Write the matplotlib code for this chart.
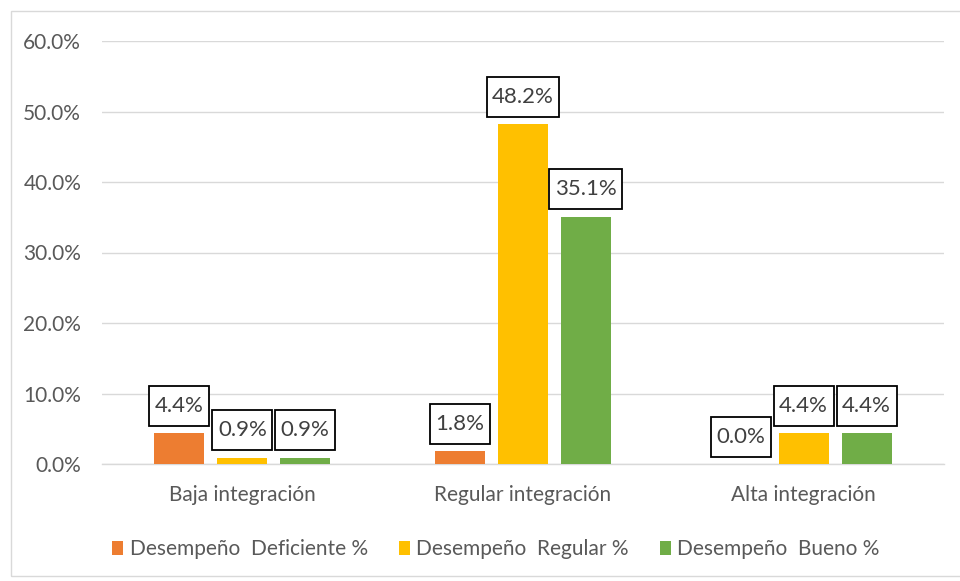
import matplotlib.pyplot as plt
from matplotlib.patches import Rectangle
from matplotlib.path import Path
import numpy as np

categories = ["Baja integración", "Regular integración", "Alta integración"]
series_names = ["Desempeño  Deficiente %", "Desempeño  Regular %", "Desempeño  Bueno %"]
deficiente = [4.4, 1.8, 0.0]
regular = [0.9, 48.2, 4.4]
bueno = [0.9, 35.1, 4.4]
colors = ["#ED7D31", "#FFC000", "#70AD47"]

plt.rcParams['font.family'] = ['Lato', 'DejaVu Sans']


def label_box(x0, y0, width, height, mutation_size):
    # rectangle with more vertical than horizontal padding
    px, py = 0.25 * mutation_size, 0.45 * mutation_size
    x0, y0 = x0 - px, y0 - py
    x1, y1 = x0 + width + 2 * px, y0 + height + 2 * py
    return Path([(x0, y0), (x1, y0), (x1, y1), (x0, y1), (x0, y0)], closed=True)


fig = plt.figure(figsize=(9.6, 5.81), dpi=100)
ax = fig.add_axes([102 / 960, 117 / 581, 842 / 960, 423 / 581])

# light chart border
fig.patches.append(Rectangle((11 / 960, 5 / 581), 1.2, 565 / 581, transform=fig.transFigure,
                             fill=False, edgecolor="#d9d9d9", linewidth=1.0))

x = np.arange(len(categories))
width = 0.178
step = 0.224
for i, (vals, name, c) in enumerate(zip([deficiente, regular, bueno], series_names, colors)):
    pos = x + (i - 1) * step
    ax.bar(pos, vals, width=width, color=c, label=name, zorder=3)
    for px, v in zip(pos, vals):
        ax.annotate(f"{v:.1f}%", (px, v), xytext=(0, 12.5), textcoords="offset points",
                    ha="center", va="bottom", fontsize=16, color="#404040", zorder=5,
                    bbox=dict(boxstyle=label_box, fc="white", ec="black", lw=1.3))

ax.set_xlim(-0.5, 2.5)
ax.set_ylim(0, 60)
ax.set_yticks(np.arange(0, 61, 10))
ax.set_yticklabels([f"{t:.1f}%" for t in np.arange(0, 61, 10)])
ax.set_xticks(x)
ax.set_xticklabels(categories)
ax.tick_params(axis="y", length=0, pad=15, labelsize=15, labelcolor="#595959")
ax.tick_params(axis="x", length=0, pad=15, labelsize=15, labelcolor="#595959")
ax.grid(axis="y", color="#d9d9d9", linewidth=1.0, zorder=0)
for s in ["top", "right", "left"]:
    ax.spines[s].set_visible(False)
ax.spines["bottom"].set_color("#d9d9d9")
ax.spines["bottom"].set_linewidth(1.0)

leg = fig.legend(loc="center", bbox_to_anchor=(496 / 960, 32 / 581), ncol=3, frameon=False,
                 fontsize=15, handlelength=0.53, handleheight=0.67, handletextpad=0.3,
                 columnspacing=1.5)
for t in leg.get_texts():
    t.set_color("#595959")

fig.savefig("out.png", dpi=100)
